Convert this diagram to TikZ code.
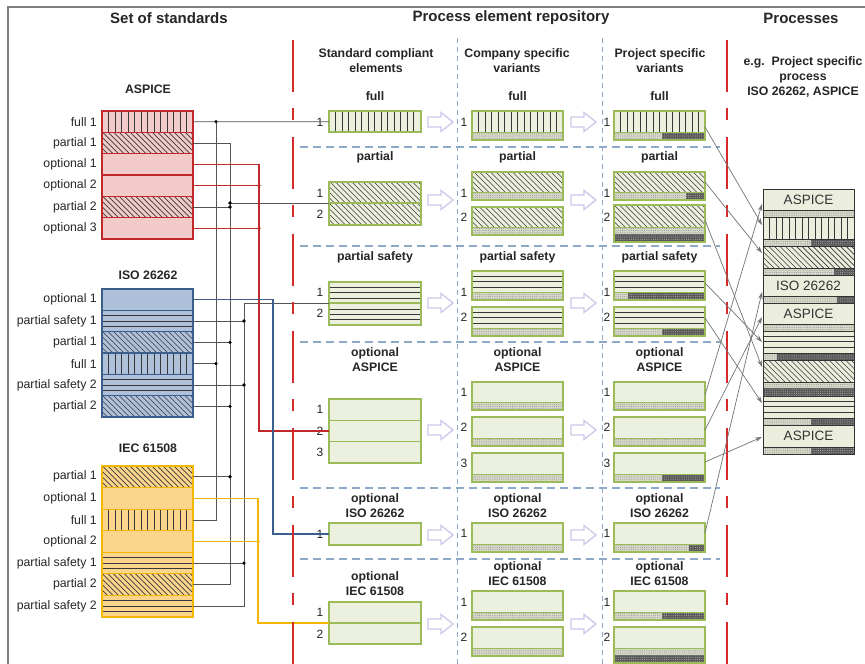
\documentclass[tikz,border=0pt]{standalone}
\usepackage{fontspec}
\setmainfont{Liberation Sans}
\usetikzlibrary{patterns.meta,arrows.meta}
\definecolor{framec}{HTML}{808080}
\definecolor{redd}{HTML}{D42A2A}
\definecolor{bluedash}{HTML}{8EA9C8}
\definecolor{gfill}{HTML}{EBF1DE}
\definecolor{gline}{HTML}{9BBB59}
\definecolor{afill}{HTML}{F2CACA}
\definecolor{aline}{HTML}{C0282A}
\definecolor{ifill}{HTML}{AFC0DA}
\definecolor{iline}{HTML}{3B5E8C}
\definecolor{efill}{HTML}{FCD58C}
\definecolor{eline}{HTML}{F2B700}
\definecolor{wirec}{HTML}{555555}
\definecolor{pfill}{HTML}{ECEEDD}
\definecolor{harrc}{HTML}{C9C9EA}
\definecolor{stripc}{HTML}{D6D9C8}
\tikzset{
 lbl/.style={font=\fontsize{12.3}{14}\selectfont, inner sep=0pt, text=black!85},
 num/.style={font=\fontsize{12}{14}\selectfont, inner sep=0pt, text=black!85},
 hdr/.style={font=\bfseries\fontsize{15}{18}\selectfont, inner sep=0pt, text=black!85},
 ttl/.style={font=\bfseries\fontsize{12.3}{15}\selectfont, inner sep=0pt, align=center, text=black!85},
 ptxt/.style={font=\fontsize{13.5}{15}\selectfont, inner sep=0pt, text=black!80},
 hline/.style={draw=black!78, line width=0.7pt},
 dstrip/.style={preaction={fill=stripc}, pattern={Dots[distance=2.2pt,radius=0.55pt]}, pattern color=black!40},
 kstrip/.style={preaction={fill=black!65}, pattern={Dots[distance=2.2pt,radius=0.55pt]}, pattern color=black!35},
 gbord/.style={draw=gline, line width=1.2pt},
 pline/.style={draw=black!80, line width=1pt},
 wire/.style={draw=wirec, line width=0.8pt},
 rwire/.style={draw=aline, line width=1.2pt},
 bwire/.style={draw=iline, line width=1.2pt},
 ywire/.style={draw=eline, line width=1.2pt},
 rdash/.style={draw=redd, line width=2.8pt, dash pattern=on 52pt off 16pt on 12pt off 17pt},
 bdash/.style={draw=bluedash, line width=0.9pt, dash pattern=on 5pt off 4pt},
 bdashh/.style={draw=bluedash, line width=1.2pt, dash pattern=on 8pt off 5pt},
 harr/.style={draw=harrc, fill=white, line width=1.3pt},
 parr/.style={draw=black!55, line width=0.7pt, -{Stealth[length=7pt,width=4.5pt]}},
}
% hatchings: x0, y0, x1, y1 (y grows downward)
\newcommand\hatchf[4]{\begin{scope}
 \clip (#1,#2) rectangle (#3,#4);
 \pgfmathsetmacro\hfa{#1+6.5}\pgfmathsetmacro\hfb{#1+13}
 \foreach \hx in {\hfa,\hfb,...,#3} \draw[hline] (\hx,#2) -- (\hx,#4);
 \end{scope}}
\newcommand\hatchp[4]{\begin{scope}
 \clip (#1,#2) rectangle (#3,#4);
 \pgfmathsetmacro\hph{#4-#2}
 \pgfmathsetmacro\hpa{#1-\hph}\pgfmathsetmacro\hpb{\hpa+5.5}
 \foreach \hx in {\hpa,\hpb,...,#3} \draw[hline] (\hx,#2) -- ++(\hph,\hph);
 \end{scope}}
\newcommand\hatchs[4]{\begin{scope}
 \clip (#1,#2) rectangle (#3,#4);
 \pgfmathsetmacro\hsa{#2+5.4}\pgfmathsetmacro\hsb{#2+10.8}
 \pgfmathsetmacro\hse{#4-1}
 \foreach \hy in {\hsa,\hsb,...,\hse} \draw[hline] (#1,\hy) -- (#3,\hy);
 \end{scope}}
\newcommand\hatcho[4]{}
% standards block: prefix, y0, row height, fill, line, list
\newcommand\stdblock[6]{%
 \foreach \t/\l [count=\i from 0] in {#6} {
   \pgfmathsetmacro\ya{#2+\i*#3}
   \pgfmathsetmacro\yb{\ya+#3}
   \fill[#4] (102,\ya) rectangle (193,\yb);
   \csname hatch\t\endcsname{102}{\ya}{193}{\yb}
   \draw[#5, line width=1.2pt] (102,\ya) rectangle (193,\yb);
   \node[lbl, anchor=east] (#1l\i) at (97,{\ya+#3/2}) {\l};
   \coordinate (#1\i) at (193,{\ya+#3/2});
 }}
% column 1 box: x0 y0 x1 y1 type
\newcommand\cbox[5]{%
 \fill[gfill] (#1,#2) rectangle (#3,#4);
 \csname hatch#5\endcsname{#1}{#2}{#3}{#4}
 \draw[gbord] (#1,#2) rectangle (#3,#4);}
% variant element: x0, y0, y1, type, dark start
\newcommand\velem[5]{%
 \pgfmathsetmacro\vxb{#1+91}\pgfmathsetmacro\vyc{#3-8}
 \fill[gfill] (#1,#2) rectangle (\vxb,#3);
 \csname hatch#4\endcsname{#1}{#2}{\vxb}{\vyc}
 \path[dstrip] (#1,\vyc) rectangle (\vxb,#3);
 \ifdim #5pt>0pt \path[kstrip] (#5,\vyc) rectangle (\vxb,#3);\fi
 \draw[gline,line width=0.8pt] (#1,\vyc) -- (\vxb,\vyc);
 \draw[gbord] (#1,#2) rectangle (\vxb,#3);}
% variant element with dotted + dark strip
\newcommand\velemtwo[4]{%
 \pgfmathsetmacro\vxb{#1+91}\pgfmathsetmacro\vyc{#3-15}\pgfmathsetmacro\vyd{#3-8}
 \fill[gfill] (#1,#2) rectangle (\vxb,#3);
 \csname hatch#4\endcsname{#1}{#2}{\vxb}{\vyc}
 \path[dstrip] (#1,\vyc) rectangle (\vxb,\vyd);
 \path[kstrip] (#1,\vyd) rectangle (\vxb,#3);
 \draw[gline,line width=0.8pt] (#1,\vyc) -- (\vxb,\vyc);
 \draw[gbord] (#1,#2) rectangle (\vxb,#3);}
% process segment: y0, y1, type, dark start, text, name
\newcommand\pseg[6]{%
 \pgfmathsetmacro\pyc{#2-7}
 \fill[pfill] (763,#1) rectangle (854,#2);
 \csname hatch#3\endcsname{763}{#1}{854}{\pyc}
 \path[dstrip] (763,\pyc) rectangle (854,#2);
 \ifdim #4pt>0pt \path[kstrip] (#4,\pyc) rectangle (854,#2);\fi
 \draw[pline] (763,\pyc) -- (854,\pyc);
 \draw[pline] (763,#1) rectangle (854,#2);
 \node[ptxt] (#6) at (808.5,{(#1+#2-7)/2}) {#5};}
% hollow arrow
\newcommand\harrow[2]{%
 \draw[harr] (#1,#2) ++(0,-5) -- ++(13,0) -- ++(0,-4.5) -- ++(12,9.5) -- ++(-12,9.5) -- ++(0,-4.5) -- ++(-13,0) -- cycle;}
\begin{document}
\begin{tikzpicture}[x=1pt,y=-1pt]
\useasboundingbox (0,0) rectangle (865,664);
\fill[white] (0,0) rectangle (865,664);
\draw[framec, line width=1.5pt] (8,670) -- (8,7) -- (870,7);

% headers
\node[hdr] (h1) at (169,18) {Set of standards};
\node[hdr] (h2) at (511,18) {Process element repository};
\node[hdr] (h3) at (801,18) {Processes};

% repository grid
\draw[bdash] (457,38) -- (457,664);
\draw[bdash] (602,38) -- (602,664);
\foreach \y in {147,246,342,488,559} \draw[bdashh] (300,\y) -- (720,\y);

% column headers
\node[ttl] (c1) at (376,60.5) {Standard compliant\\elements};
\node[ttl] (c2) at (517,60.5) {Company specific\\variants};
\node[ttl] (c3) at (660,60.5) {Project specific\\variants};
\node[ttl] (c4) at (803,77) {e.g.\ \ Project specific\\process\\ISO 26262, ASPICE};

% row titles
\foreach \x [count=\k] in {375,517.5,659.5} {
  \node[ttl] (rf\k) at (\x,96) {full};
  \node[ttl] (rp\k) at (\x,157) {partial};
  \node[ttl] (rs\k) at (\x,257) {partial safety};
  \node[ttl] (ra\k) at (\x,359.5) {optional\\ASPICE};
  \node[ttl] (ri\k) at (\x,505.5) {optional\\ISO 26262};
}
\node[ttl] (re1) at (375,583.5) {optional\\IEC 61508};
\node[ttl] (re2) at (517.5,573.5) {optional\\IEC 61508};
\node[ttl] (re3) at (659.5,573.5) {optional\\IEC 61508};

% standards
\node[ttl] (ta) at (148,89) {ASPICE};
\node[ttl] (ti) at (148,275) {ISO 26262};
\node[ttl] (te) at (148,448) {IEC 61508};
\stdblock{a}{111}{21.333}{afill}{aline}{f/full 1, p/partial 1, o/optional 1, o/optional 2, p/partial 2, o/optional 3}
\stdblock{i}{289}{21.333}{ifill}{iline}{o/optional 1, s/partial safety 1, p/partial 1, f/full 1, s/partial safety 2, p/partial 2}
\stdblock{e}{466}{21.571}{efill}{eline}{p/partial 1, o/optional 1, f/full 1, o/optional 2, s/partial safety 1, p/partial 2, s/partial safety 2}

% column 1
\cbox{329}{111}{421}{132}{f}
\cbox{329}{182}{421}{225}{p}
\draw[gbord] (329,203) -- (421,203);
\cbox{329}{282}{421}{325}{s}
\draw[gbord] (329,303) -- (421,303);
\cbox{329}{399}{421}{463}{o}
\draw[gbord] (329,420.3) -- (421,420.3);
\draw[gbord] (329,441.7) -- (421,441.7);
\cbox{329}{523}{421}{545}{o}
\cbox{329}{602}{421}{644}{o}
\draw[gbord] (329,623) -- (421,623);
\foreach \y/\t [count=\k] in {122/1,193/1,214/2,292/1,313/2,409/1,431/2,452/3,534/1,612/1,634/2}
  \node[num] (n1-\k) at (320,\y) {\t};

% column 2
\velem{472}{111}{140}{f}{0}
\velem{472}{172}{200}{p}{0}
\velem{472}{207}{235}{p}{0}
\velem{472}{271}{300}{s}{0}
\velem{472}{307}{336}{s}{0}
\velem{472}{382}{410}{o}{0}
\velem{472}{417}{446}{o}{0}
\velem{472}{453}{482}{o}{0}
\velem{472}{523}{552}{o}{0}
\velem{472}{591}{620}{o}{0}
\velem{472}{627}{656}{o}{0}

% column 3
\velem{614}{111}{140}{f}{662}
\velem{614}{172}{200}{p}{686}
\velemtwo{614}{205}{242}{p}
\velem{614}{271}{300}{s}{628}
\velem{614}{307}{336}{s}{662}
\velem{614}{382}{410}{o}{0}
\velem{614}{417}{446}{o}{0}
\velem{614}{453}{482}{o}{662}
\velem{614}{523}{552}{o}{689}
\velem{614}{591}{620}{o}{662}
\velemtwo{614}{627}{663}{o}

\foreach \y/\t [count=\k] in {122/1,193/1,217/2,292/1,317/2,392/1,427/2,463/3,533/1,602/1,637/2} {
  \node[num] (n2-\k) at (464,\y) {\t};
  \node[num] (n3-\k) at (607,\y) {\t};
}

% hollow arrows
\foreach \y in {122,200,303,430,535,624} {
  \harrow{428}{\y}
  \harrow{571}{\y}
}

% processes column
\pseg{189}{217}{o}{0}{ASPICE}{p1}
\pseg{217}{246}{f}{811}{}{p2}
\pseg{246}{275}{p}{834}{}{p3}
\pseg{275}{303}{o}{837}{ISO 26262}{p4}
\pseg{303}{331}{o}{0}{ASPICE}{p5}
\pseg{331}{360}{s}{777}{}{p6}
\fill[pfill] (763,360) rectangle (854,396);
\hatchp{763}{360}{854}{382}
\path[dstrip] (763,382) rectangle (854,388);
\path[kstrip] (763,388) rectangle (854,396);
\draw[pline] (763,382) -- (854,382);
\draw[pline] (763,360) rectangle (854,396);
\pseg{396}{425}{s}{811}{}{p8}
\pseg{425}{454}{o}{811}{ASPICE}{p9}

% wiring coordinates
\coordinate (bF) at (216,0);
\coordinate (bP) at (230,0);
\coordinate (bS) at (244,0);
\coordinate (bR) at (259,0);
\coordinate (bB) at (273,0);
\coordinate (bY) at (258,0);
\coordinate (kfull) at (329,121.7);
\coordinate (kpart) at (329,203);
\coordinate (kps) at (329,303);
\coordinate (koa) at (329,431);
\coordinate (koi) at (329,534);
\coordinate (koe) at (329,623);

% full
\draw[wire] (a0) -- (kfull);
\draw[wire] (a0 -| bF) -- (e2 -| bF) -- (e2);
\draw[wire] (i3) -- (i3 -| bF);
\foreach \c in {a0,i3} \fill[black] (\c -| bF) circle (1.8pt);
% partial
\draw[wire] (a1) -- (a1 -| bP) -- (e5 -| bP) -- (e5);
\draw[wire] (a4) -- (a4 -| bP);
\draw[wire] (kpart -| bP) -- (kpart);
\foreach \c in {i2,i5,e0} \draw[wire] (\c) -- (\c -| bP);
\foreach \c in {kpart,a4,i2,i5,e0} \fill[black] (\c -| bP) circle (1.8pt);
% partial safety
\draw[wire] (kps) -- (kps -| bS) -- (e6 -| bS) -- (e6);
\foreach \c in {i1,i4,e4} {\draw[wire] (\c) -- (\c -| bS); \fill[black] (\c -| bS) circle (1.8pt);}
% optional ASPICE
\draw[rwire] (a2) -- (a2 -| bR) -- (koa -| bR) -- (koa);
\foreach \c in {a3,a5} {\draw[rwire] (\c) -- (\c -| bR); \fill[aline] (\c -| bR) circle (1.8pt);}
% optional ISO
\draw[bwire] (i0) -- (i0 -| bB) -- (koi -| bB) -- (koi);
% optional IEC
\draw[ywire] (e1) -- (e1 -| bY) -- (koe -| bY) -- (koe);
\draw[ywire] (e3) -- (e3 -| bY);
\fill[eline] (e3 -| bY) circle (1.8pt);

% red separators
\draw[rdash] (293,40) -- (293,664);
\draw[rdash] (727,40) -- (727,664);

% links project variants -> process
\coordinate (s1) at (705,127);
\coordinate (s2) at (705,182);
\coordinate (s3) at (705,220);
\coordinate (s4) at (705,283);
\coordinate (s5) at (705,318);
\coordinate (s6) at (705,395);
\coordinate (s7) at (705,430);
\coordinate (s8) at (705,462);
\coordinate (s9) at (705,533);
\coordinate (q1) at (762,204);
\coordinate (q2) at (762,225);
\coordinate (q3) at (762,253);
\coordinate (q4) at (762,292);
\coordinate (q5) at (762,317);
\coordinate (q6) at (762,342);
\coordinate (q7) at (762,367);
\coordinate (q8) at (762,403);
\coordinate (q9) at (762,437);
\draw[parr] (s1) -- (q2);
\draw[parr] (s2) -- (q3);
\draw[parr] (s3) -- (q7);
\draw[parr] (s4) -- (q6);
\draw[parr] (s5) -- (q8);
\draw[parr] (s6) -- (q1);
\draw[parr] (s7) -- (q5);
\draw[parr] (s8) -- (q9);
\draw[parr] (s9) -- (q4);
\end{tikzpicture}
\end{document}
